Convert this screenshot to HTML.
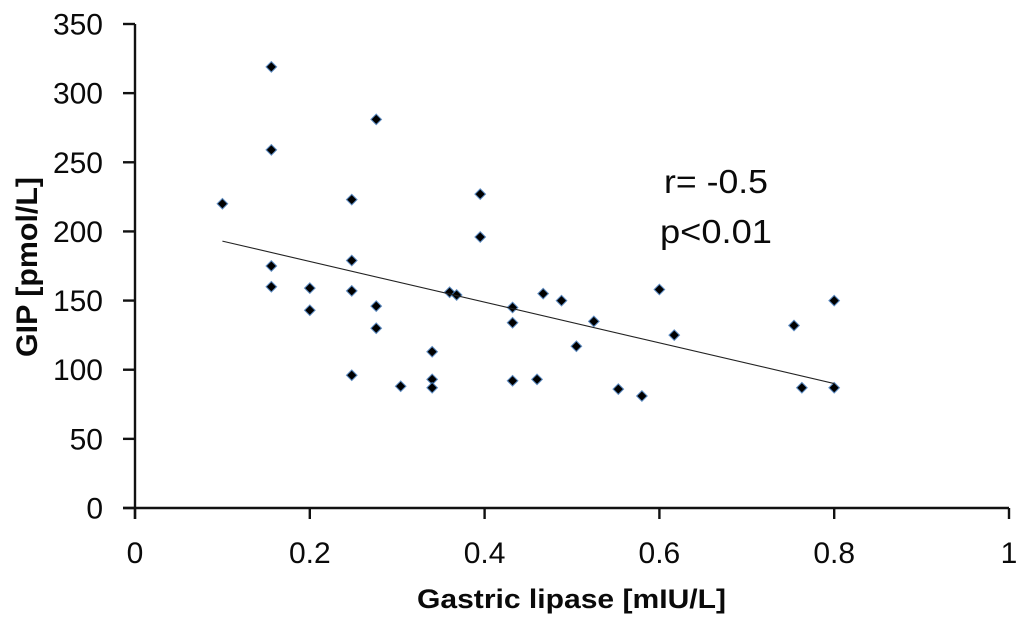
<!DOCTYPE html>
<html>
<head>
<meta charset="utf-8">
<style>
html,body{margin:0;padding:0;background:#fff;width:1024px;height:625px;overflow:hidden}
svg{display:block;font-family:"Liberation Sans",sans-serif;fill:#0a0a0a}
</style>
</head>
<body>
<svg id="chart" width="1024" height="625" viewBox="0 0 1024 625" xmlns="http://www.w3.org/2000/svg">
<rect width="1024" height="625" fill="#fff"/>
<g id="axes"></g>
<g id="points"></g>
<g id="trend"></g>
<text x="417" y="608" font-size="27" font-weight="bold" textLength="309" lengthAdjust="spacingAndGlyphs">Gastric lipase [mIU/L]</text>
<text transform="translate(37,357) rotate(-90)" font-size="30" font-weight="bold" textLength="180" lengthAdjust="spacingAndGlyphs">GIP [pmol/L]</text>
<text x="664" y="193" font-size="33" textLength="104" lengthAdjust="spacingAndGlyphs">r= -0.5</text>
<text x="660" y="243" font-size="33" textLength="112" lengthAdjust="spacingAndGlyphs">p&lt;0.01</text>
</svg>
<script>
const xTicks = [0, 0.2, 0.4, 0.6, 0.8, 1];
const yTicks = [0, 50, 100, 150, 200, 250, 300, 350];
const lipaseValues = [0.1, 0.156, 0.156, 0.156, 0.156, 0.2, 0.2, 0.248, 0.248, 0.248, 0.248, 0.276, 0.276, 0.276, 0.304, 0.34, 0.34, 0.34, 0.36, 0.368, 0.395, 0.395, 0.432, 0.432, 0.432, 0.46, 0.467, 0.488, 0.505, 0.525, 0.553, 0.58, 0.6, 0.617, 0.754, 0.763, 0.8, 0.8];
const gipValues = [220, 319, 259, 175, 160, 159, 143, 223, 179, 157, 96, 281, 146, 130, 88, 113, 93, 87, 156, 154, 227, 196, 145, 134, 92, 93, 155, 150, 117, 135, 86, 81, 158, 125, 132, 87, 150, 87];
const trendX = [0.1, 0.8];
const trendY = [193, 90];

const NS = 'http://www.w3.org/2000/svg';
const xScale = v => 135 + v * 874;
const yScale = v => 508 - v * (484 / 350);
function make(tag, parent, attrs, text) {
  const el = document.createElementNS(NS, tag);
  for (const k in attrs) el.setAttribute(k, attrs[k]);
  if (text !== undefined) el.textContent = text;
  parent.appendChild(el);
  return el;
}
const axes = document.getElementById('axes');
const points = document.getElementById('points');
const trend = document.getElementById('trend');
const axisStyle = {stroke: '#111', 'stroke-width': 2.4};

const yAxisLine = make('line', axes, Object.assign({x1: xScale(0), x2: xScale(0), y1: yScale(350), y2: 519}, axisStyle));


const xAxisLine = make('line', axes, Object.assign({x1: 123, x2: xScale(1), y1: yScale(0), y2: yScale(0)}, axisStyle));



xTicks.forEach(v => {
  const tick = make('line', axes, Object.assign({x1: xScale(v), x2: xScale(v), y1: yScale(0), y2: 519}, axisStyle));
  
  
  const label = make('text', axes, {x: xScale(v), y: 563, 'text-anchor': 'middle', 'font-size': 30}, String(v));
  
  
});
yTicks.forEach(v => {
  const tick = make('line', axes, Object.assign({x1: 123, x2: xScale(0), y1: yScale(v), y2: yScale(v)}, axisStyle));
  
  
  const label = make('text', axes, {x: 103, y: yScale(v) + 10.5, 'text-anchor': 'end', 'font-size': 30}, String(v));
  
  
});
lipaseValues.forEach((v, i) => {
  const cx = xScale(v), cy = yScale(gipValues[i]);
  const halo = make('polygon', points, {points: `${cx-6},${cy} ${cx},${cy-6} ${cx+6},${cy} ${cx},${cy+6}`, fill: '#3f75b5', opacity: 0.85});
  
  
  const dot = make('polygon', points, {points: `${cx-4.5},${cy} ${cx},${cy-4.5} ${cx+4.5},${cy} ${cx},${cy+4.5}`, fill: '#000'});
  
  
});
const trendLine = make('line', trend, {x1: xScale(trendX[0]), y1: yScale(trendY[0]), x2: xScale(trendX[1]), y2: yScale(trendY[1]), stroke: '#222', 'stroke-width': 1.1});


</script>
</body>
</html>
